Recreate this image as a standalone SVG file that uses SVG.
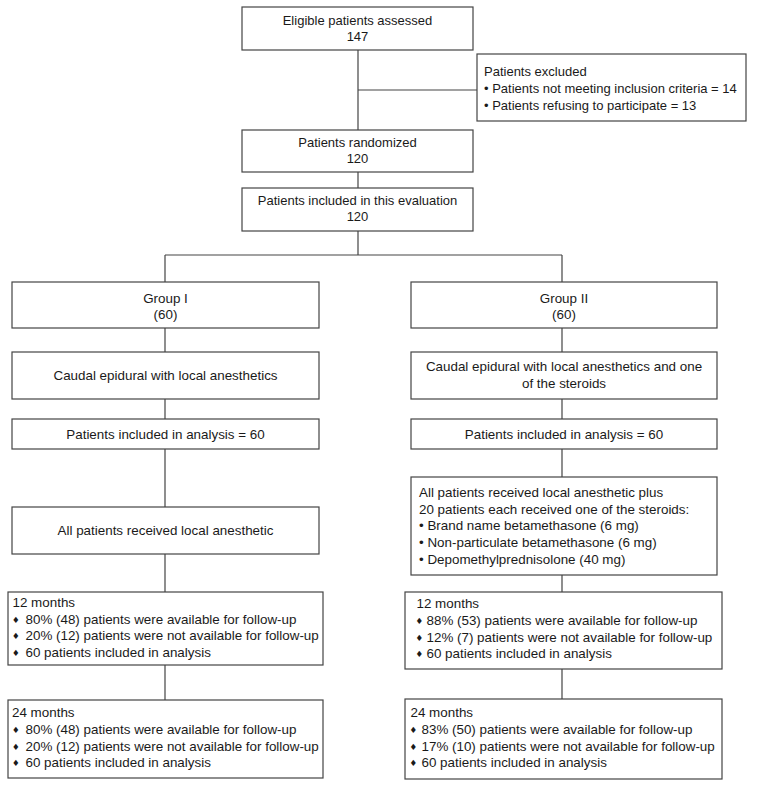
<svg xmlns="http://www.w3.org/2000/svg" width="771" height="787" viewBox="0 0 771 787">
<style>
rect{fill:#fff;stroke:#444;stroke-width:1.2}
text{font-family:"Liberation Sans",Arial,sans-serif;font-size:13.4px;fill:#1a1a1a}
.t{font-size:13px}
.c{text-anchor:middle}
.d{font-family:"DejaVu Sans",sans-serif;font-size:8.5px}
#connectors line{stroke:#444;stroke-width:1.2}
</style>
<rect x="0" y="0" width="771" height="787" style="stroke:none"/>
<g id="connectors">
<line x1="358" y1="50" x2="358" y2="130"/>
<line x1="358" y1="90" x2="477" y2="90"/>
<line x1="358" y1="172" x2="358" y2="188"/>
<line x1="358" y1="231" x2="358" y2="255"/>
<line x1="165" y1="255" x2="562" y2="255"/>
<line x1="165" y1="255" x2="165" y2="282"/>
<line x1="562" y1="255" x2="562" y2="282"/>
<line x1="165" y1="328" x2="165" y2="352"/>
<line x1="165" y1="399" x2="165" y2="419"/>
<line x1="165" y1="449" x2="165" y2="507"/>
<line x1="165" y1="554" x2="165" y2="592"/>
<line x1="165" y1="665" x2="165" y2="700"/>
<line x1="562" y1="328" x2="562" y2="352"/>
<line x1="562" y1="399" x2="562" y2="419"/>
<line x1="562" y1="449" x2="562" y2="477"/>
<line x1="562" y1="575" x2="562" y2="592"/>
<line x1="562" y1="669" x2="562" y2="699"/>
</g>
<g id="eligible">
<rect x="242" y="7" width="231" height="43"/>
<text class="c t" x="357.5" y="25">Eligible patients assessed</text>
<text class="c t" x="357.5" y="41">147</text>
</g>
<g id="excluded">
<rect x="477" y="54" width="269" height="67"/>
<text class="t" x="484" y="76">Patients excluded</text>
<text class="t" x="484" y="93">• Patients not meeting inclusion criteria = 14</text>
<text class="t" x="484" y="110">• Patients refusing to participate = 13</text>
</g>
<g id="randomized">
<rect x="242" y="130" width="231" height="42"/>
<text class="c t" x="357.5" y="147">Patients randomized</text>
<text class="c t" x="357.5" y="163">120</text>
</g>
<g id="included">
<rect x="242" y="188" width="231" height="43"/>
<text class="c t" x="357.5" y="205">Patients included in this evaluation</text>
<text class="c t" x="357.5" y="221">120</text>
</g>
<g id="group1">
<rect x="12" y="282" width="307" height="46"/>
<text class="c" x="165.5" y="303">Group I</text>
<text class="c" x="165.5" y="319">(60)</text>
</g>
<g id="caudal1">
<rect x="12" y="352" width="307" height="47"/>
<text class="c" x="165.5" y="380">Caudal epidural with local anesthetics</text>
</g>
<g id="analysis1">
<rect x="12" y="419" width="307" height="30"/>
<text class="c" x="165.5" y="439">Patients included in analysis = 60</text>
</g>
<g id="received1">
<rect x="12" y="507" width="307" height="47"/>
<text class="c" x="165.5" y="535">All patients received local anesthetic</text>
</g>
<g id="m12a">
<rect x="8" y="592" width="315" height="73"/>
<text x="12.5" y="607">12 months</text>
<text class="d" x="12" y="623">♦</text><text x="25.5" y="624">80% (48) patients were available for follow-up</text>
<text class="d" x="12" y="639">♦</text><text x="25.5" y="640">20% (12) patients were not available for follow-up</text>
<text class="d" x="12" y="656">♦</text><text x="25.5" y="657">60 patients included in analysis</text>
</g>
<g id="m24a">
<rect x="8" y="700" width="315" height="78"/>
<text x="12" y="717">24 months</text>
<text class="d" x="12" y="733">♦</text><text x="25.5" y="734">80% (48) patients were available for follow-up</text>
<text class="d" x="12" y="750">♦</text><text x="25.5" y="751">20% (12) patients were not available for follow-up</text>
<text class="d" x="12" y="766">♦</text><text x="25.5" y="767">60 patients included in analysis</text>
</g>
<g id="group2">
<rect x="411" y="282" width="306" height="46"/>
<text class="c" x="564" y="303">Group II</text>
<text class="c" x="564" y="319">(60)</text>
</g>
<g id="caudal2">
<rect x="411" y="352" width="306" height="47"/>
<text class="c" x="564" y="371">Caudal epidural with local anesthetics and one</text>
<text class="c" x="564" y="388">of the steroids</text>
</g>
<g id="analysis2">
<rect x="411" y="419" width="306" height="30"/>
<text class="c" x="564" y="439">Patients included in analysis = 60</text>
</g>
<g id="received2">
<rect x="411" y="477" width="306" height="98"/>
<text x="419" y="497">All patients received local anesthetic plus</text>
<text x="419" y="514">20 patients each received one of the steroids:</text>
<text x="419" y="530">• Brand name betamethasone (6 mg)</text>
<text x="419" y="547">• Non-particulate betamethasone (6 mg)</text>
<text x="419" y="564">• Depomethylprednisolone (40 mg)</text>
</g>
<g id="m12b">
<rect x="405" y="592" width="317" height="77"/>
<text x="416.5" y="608">12 months</text>
<text class="d" x="415.5" y="624">♦</text><text x="426.5" y="625">88% (53) patients were available for follow-up</text>
<text class="d" x="415.5" y="641">♦</text><text x="426.5" y="642">12% (7) patients were not available for follow-up</text>
<text class="d" x="415.5" y="657">♦</text><text x="426.5" y="658">60 patients included in analysis</text>
</g>
<g id="m24b">
<rect x="405" y="699" width="317" height="80"/>
<text x="410.5" y="717">24 months</text>
<text class="d" x="409.5" y="733">♦</text><text x="421.5" y="734">83% (50) patients were available for follow-up</text>
<text class="d" x="409.5" y="750">♦</text><text x="421.5" y="751">17% (10) patients were not available for follow-up</text>
<text class="d" x="409.5" y="766">♦</text><text x="421.5" y="767">60 patients included in analysis</text>
</g>
</svg>
